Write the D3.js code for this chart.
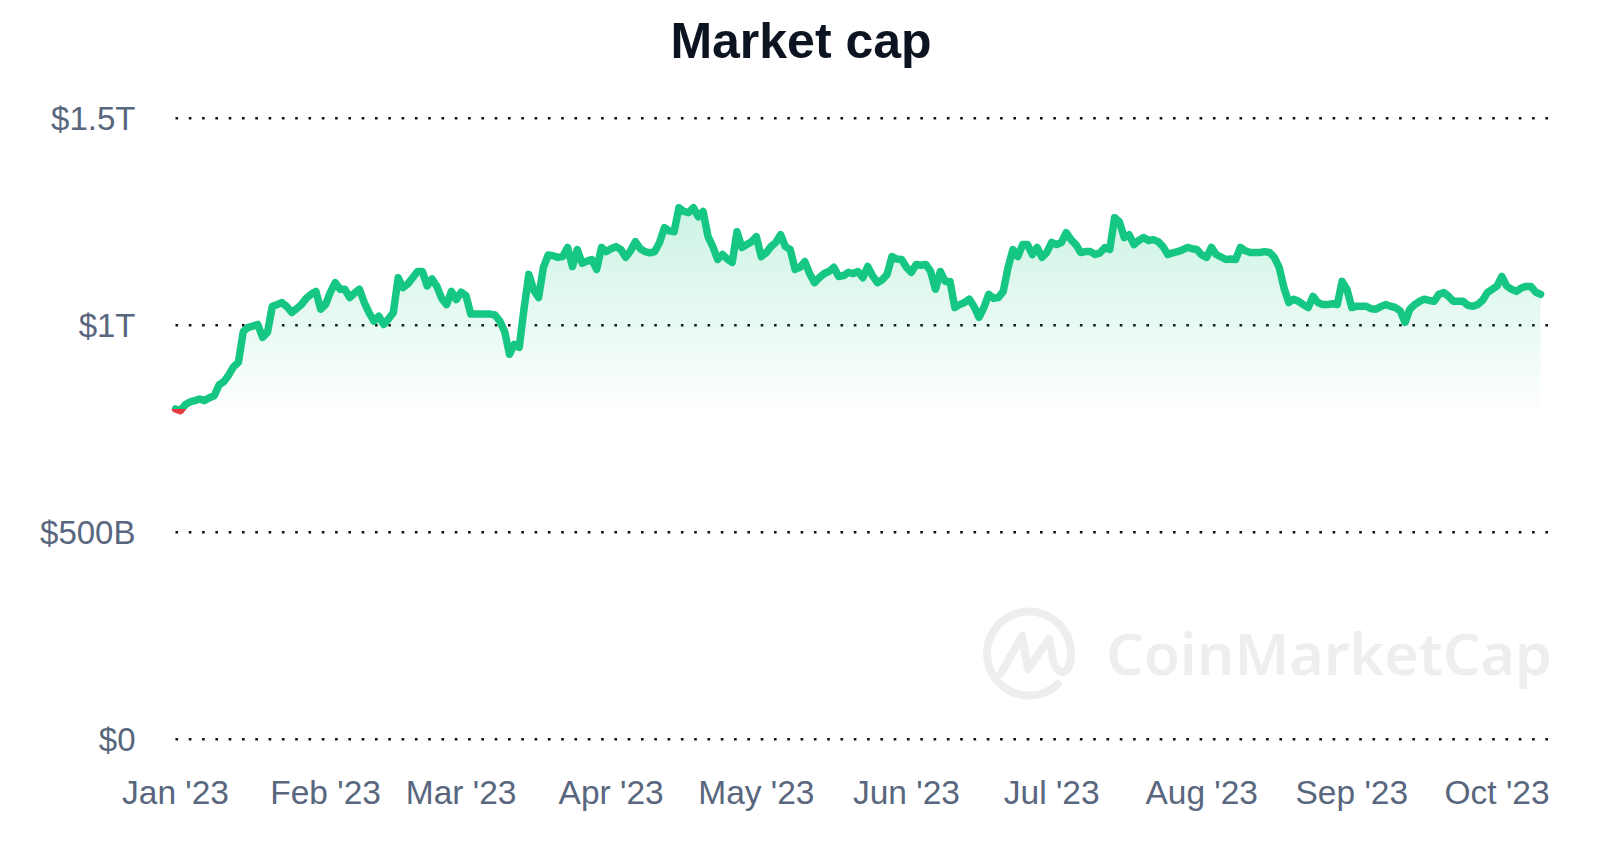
<!DOCTYPE html>
<html>
<head>
<meta charset="utf-8">
<script src="https://cdn.jsdelivr.net/npm/d3@7"></script>
<style>
  body { margin: 0; background: #fff; }
  svg { display: block; font-family: 'Liberation Sans', Arial, sans-serif; }
</style>
</head>
<body>
<div id="chart-area"></div>
<script>
// daily total market cap in $B, starting 1 Jan 2023
var startDate = '2023-01-01'
var marketCap = [
  798, 794, 808, 815, 818, 822, 818, 825, 830, 856,
  864, 880, 900, 911, 985, 995, 998, 1002, 971, 983,
  1046, 1050, 1055, 1045, 1031, 1040, 1050, 1065, 1075, 1082,
  1039, 1050, 1080, 1103, 1087, 1087, 1067, 1078, 1087, 1055,
  1030, 1010, 1022, 1002, 1015, 1031, 1115, 1091, 1100, 1115,
  1130, 1130, 1095, 1112, 1094, 1065, 1050, 1082, 1062, 1080,
  1072, 1027, 1027, 1027, 1027, 1027, 1025, 1010, 985, 930,
  954, 947, 1040, 1123, 1085, 1067, 1140, 1170, 1168, 1164,
  1166, 1188, 1142, 1183, 1150, 1155, 1159, 1135, 1188, 1178,
  1185, 1190, 1183, 1164, 1180, 1202, 1185, 1178, 1175, 1178,
  1200, 1236, 1228, 1226, 1284, 1275, 1272, 1284, 1262, 1275,
  1215, 1190, 1159, 1171, 1160, 1152, 1226, 1188, 1195, 1202,
  1214, 1166, 1175, 1190, 1200, 1219, 1190, 1183, 1135, 1140,
  1154, 1125, 1103, 1115, 1125, 1130, 1140, 1118, 1120, 1128,
  1125, 1130, 1115, 1142, 1120, 1103, 1110, 1123, 1166, 1160,
  1159, 1140, 1128, 1147, 1145, 1147, 1130, 1087, 1130, 1106,
  1106, 1043, 1050, 1055, 1063, 1045, 1019, 1043, 1075, 1065,
  1067, 1082, 1140, 1183, 1166, 1195, 1195, 1171, 1188, 1164,
  1176, 1200, 1195, 1200, 1224, 1207, 1195, 1176, 1178, 1178,
  1171, 1175, 1188, 1183, 1260, 1250, 1212, 1219, 1195, 1205,
  1212, 1205, 1207, 1202, 1190, 1171, 1175, 1178, 1182, 1188,
  1185, 1183, 1170, 1164, 1188, 1171, 1165, 1159, 1160, 1159,
  1188, 1180, 1176, 1176, 1176, 1178, 1176, 1164, 1140, 1090,
  1055, 1063, 1058, 1050, 1043, 1070, 1055, 1050, 1050, 1052,
  1050, 1106, 1087, 1043, 1046, 1046, 1046, 1040, 1039, 1045,
  1050, 1046, 1043, 1035, 1007, 1039, 1050, 1058, 1063, 1060,
  1058, 1075, 1079, 1070, 1058, 1058, 1058, 1048, 1046, 1050,
  1060, 1079, 1087, 1095, 1118, 1095, 1087, 1082, 1090, 1094,
  1094, 1080, 1075
]

var monthTicks = ['2023-01-01', '2023-02-01', '2023-03-01', '2023-04-01', '2023-05-01',
                  '2023-06-01', '2023-07-01', '2023-08-01', '2023-09-01', '2023-10-01']
var monthLabels = ["Jan '23", "Feb '23", "Mar '23", "Apr '23", "May '23",
                   "Jun '23", "Jul '23", "Aug '23", "Sep '23", "Oct '23"]
var yTicks = [0, 500, 1000, 1500]
var yTickLabels = ['$0', '$500B', '$1T', '$1.5T']

var margin = { left: 175.5, top: 118.3 }
var width = 1321.5,      // Jan 1 -> Oct 1
    height = 621,
    gridEnd = 1377

var parse = d3.utcParse('%Y-%m-%d')
var start = parse(startDate)
var data = marketCap.map((v, i) => ({ date: d3.utcDay.offset(start, i), value: v }))

var svg = d3.select('#chart-area')
  .append('svg')
    .attr('width', 1600)
    .attr('height', 853)

var defs = svg.append('defs')

var g = svg.append('g')
    .attr('transform', 'translate(' + margin.left + ', ' + margin.top + ')')

var x = d3.scaleUtc()
    .domain([parse(monthTicks[0]), parse(monthTicks[monthTicks.length - 1])])
    .range([0, width])

var y = d3.scaleLinear()
    .domain([0, 1500])
    .range([height, 0])

// title
svg.append('text')
  .attr('x', 801)
  .attr('y', 58)
  .attr('text-anchor', 'middle')
  .attr('font-size', '50px')
  .attr('font-weight', 'bold')
  .attr('fill', '#0d1421')
  .text('Market cap')

// watermark
var wm = svg.append('g').attr('fill', 'none').attr('stroke', '#eeeeee')
  .attr('stroke-width', 8).attr('stroke-linecap', 'round').attr('stroke-linejoin', 'round')
  .attr('transform', 'translate(11, 3)')
wm.append('path')
  .attr('d', 'M1047,681 A42,42 0 1 1 1059,660 Q1056,672 1048,668 Q1042,664 1041,650 L1038,636 L1017,666 L1011,633 L990,670')
svg.append('text')
  .attr('x', 1106)
  .attr('y', 675)
  .attr('font-family', "'Noto Sans', sans-serif")
  .attr('font-weight', 600)
  .attr('font-size', '58px')
  .attr('fill', '#eeeeee')
  .attr('textLength', 446)
  .attr('lengthAdjust', 'spacingAndGlyphs')
  .text('CoinMarketCap')

// grid lines
g.selectAll('.grid')
  .data(yTicks)
  .enter()
  .append('line')
    .attr('class', 'grid')
    .attr('x1', 0)
    .attr('x2', gridEnd)
    .attr('y1', d => y(d))
    .attr('y2', d => y(d))
    .attr('stroke', '#111')
    .attr('stroke-width', 2.6)
    .attr('stroke-dasharray', '2.6 10.7')

// y labels
g.selectAll('.ylab')
  .data(yTicks)
  .enter()
  .append('text')
    .attr('class', 'ylab')
    .attr('x', -40)
    .attr('y', d => y(d) + 12)
    .attr('text-anchor', 'end')
    .attr('font-size', '33px')
    .attr('fill', '#58667e')
    .text((d, i) => yTickLabels[i])

// x labels
g.selectAll('.xlab')
  .data(monthTicks)
  .enter()
  .append('text')
    .attr('class', 'xlab')
    .attr('x', d => x(parse(d)))
    .attr('y', 686)
    .attr('text-anchor', 'middle')
    .attr('font-size', '33.5px')
    .attr('fill', '#58667e')
    .text((d, i) => monthLabels[i])

// area + line, green above the opening value, red below
var base = y(marketCap[0])

var grad = defs.append('linearGradient')
    .attr('id', 'fillGrad')
    .attr('gradientUnits', 'userSpaceOnUse')
    .attr('x1', 0).attr('x2', 0)
    .attr('y1', y(1290)).attr('y2', base)
grad.append('stop').attr('offset', '0%').attr('stop-color', '#16c784').attr('stop-opacity', 0.22)
grad.append('stop').attr('offset', '100%').attr('stop-color', '#16c784').attr('stop-opacity', 0.01)

defs.append('clipPath').attr('id', 'clipUp')
  .append('rect').attr('x', -50).attr('y', -200).attr('width', width + 300).attr('height', base + 200)
defs.append('clipPath').attr('id', 'clipDown')
  .append('rect').attr('x', -50).attr('y', base).attr('width', width + 300).attr('height', height)

var area = d3.area()
    .x(d => x(d.date))
    .y0(base)
    .y1(d => y(d.value))

var line = d3.line()
    .x(d => x(d.date))
    .y(d => y(d.value))

g.append('path')
  .datum(data)
  .attr('d', area)
  .attr('fill', 'url(#fillGrad)')
  .attr('clip-path', 'url(#clipUp)')

g.append('path')
  .datum(data)
  .attr('d', line)
  .attr('fill', 'none')
  .attr('stroke', '#16c784')
  .attr('stroke-width', 7.5)
  .attr('stroke-linejoin', 'round')
  .attr('stroke-linecap', 'round')
  .attr('clip-path', 'url(#clipUp)')

g.append('path')
  .datum(data)
  .attr('d', line)
  .attr('fill', 'none')
  .attr('stroke', '#ea3943')
  .attr('stroke-width', 7.5)
  .attr('stroke-linejoin', 'round')
  .attr('stroke-linecap', 'round')
  .attr('clip-path', 'url(#clipDown)')
</script>
</body>
</html>
